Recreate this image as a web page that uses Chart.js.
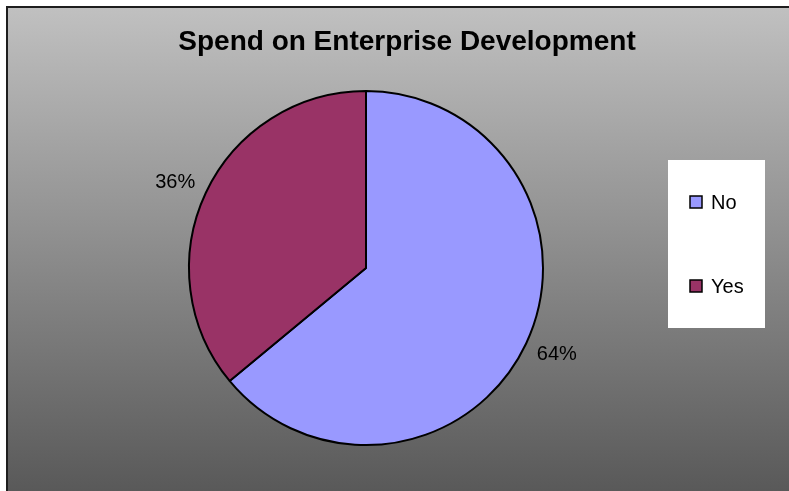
<!DOCTYPE html>
<html>
<head>
<meta charset="utf-8">
<title>Spend on Enterprise Development</title>
<script src="https://cdn.jsdelivr.net/npm/chart.js@4"></script>
<style>
  html, body { margin: 0; padding: 0; background: #fff; overflow: hidden; }
  #frame {
    position: absolute; left: 6px; top: 6px;
    width: 798px; height: 483px;
    border-top: 2px solid #1e1e1e; border-left: 2px solid #1e1e1e;
    background: linear-gradient(#c0c0c0, #595959);
  }
  #frame canvas { display: block; }
</style>
</head>
<body>
<div id="frame"><canvas id="spendChart" width="798" height="483"></canvas></div>
<script>
const labels = ['No', 'Yes'];
const shares = [64, 36];
const sliceColors = ['#9999ff', '#993366'];

const FONT = 'Arial, "Liberation Sans", sans-serif';

// title spans the whole canvas, not just the area left of the legend
const wideTitle = {
    id: 'wideTitle',
    afterLayout(chart) {
        chart.titleBlock.left = 0;
        chart.titleBlock.right = chart.width;
        chart.titleBlock.width = chart.width;
    }
};

// percentage labels just outside each slice
const sliceLabels = {
    id: 'sliceLabels',
    afterDatasetsDraw(chart) {
        const ctx = chart.ctx;
        const meta = chart.getDatasetMeta(0);
        ctx.save();
        ctx.font = '20px ' + FONT;
        ctx.fillStyle = '#000';
        ctx.textAlign = 'center';
        ctx.textBaseline = 'middle';
        meta.data.forEach((arc, i) => {
            const p = arc.getProps(['x', 'y', 'startAngle', 'endAngle', 'outerRadius'], true);
            const mid = (p.startAngle + p.endAngle) / 2;
            const r = p.outerRadius + 25;
            const dx = Math.cos(mid), dy = Math.sin(mid);
            ctx.fillText(shares[i] + '%', p.x + dx * r + Math.sign(dx) * 8, p.y + dy * r);
        });
        ctx.restore();
    }
};

// legend in a white box on the right
const boxLegend = {
    id: 'boxLegend',
    afterDraw(chart) {
        const ctx = chart.ctx;
        const left = 660, top = 152, w = 97, h = 168;
        ctx.save();
        ctx.fillStyle = '#fff';
        ctx.fillRect(left, top, w, h);
        ctx.font = '20px ' + FONT;
        ctx.textBaseline = 'middle';
        labels.forEach((name, i) => {
            const cy = top + 42 + i * 84;
            ctx.fillStyle = sliceColors[i];
            ctx.fillRect(left + 22, cy - 6, 12, 12);
            ctx.strokeStyle = '#000';
            ctx.lineWidth = 1.5;
            ctx.strokeRect(left + 22, cy - 6, 12, 12);
            ctx.fillStyle = '#000';
            ctx.fillText(name, left + 43, cy + 1);
        });
        ctx.restore();
    }
};

const ctx = document.getElementById('spendChart').getContext('2d');
const spendChart = new Chart(ctx, {
    type: 'pie',
    data: {
        labels: labels,
        datasets: [{
            data: shares,
            backgroundColor: sliceColors,
            borderColor: '#000',
            borderWidth: 2
        }]
    },
    options: {
        responsive: false,
        animation: false,
        radius: 177,
        layout: { padding: { left: 0, right: 82, top: 0, bottom: 13.4 } },
        plugins: {
            legend: { display: false },
            tooltip: { enabled: false },
            title: {
                display: true,
                text: 'Spend on Enterprise Development',
                color: '#000',
                font: { family: FONT, size: 28, weight: 'bold' },
                padding: { top: 17, bottom: 0 }
            }
        }
    },
    plugins: [wideTitle, sliceLabels, boxLegend]
});
</script>
</body>
</html>
